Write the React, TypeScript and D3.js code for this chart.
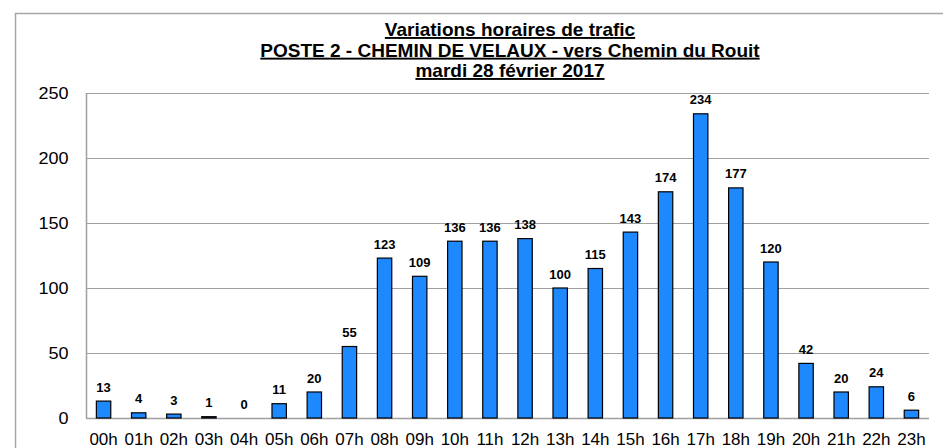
import React from "react";
import * as d3 from "d3";

const hours = ["00h","01h","02h","03h","04h","05h","06h","07h","08h","09h","10h","11h","12h","13h","14h","15h","16h","17h","18h","19h","20h","21h","22h","23h"];
const counts = [13,4,3,1,0,11,20,55,123,109,136,136,138,100,115,143,174,234,177,120,42,20,24,6];
const yTicks = [0,50,100,150,200,250];
const titleLines = ["Variations horaires de trafic","POSTE 2 - CHEMIN DE VELAUX - vers Chemin du Rouit","mardi 28 février 2017"];

export default function App() {
  const W = 943, H = 448;
  const left = 86, right = 929, top = 93, bottom = 418;
  const x = d3.scaleBand<string>().domain(hours).range([left, right]).paddingInner(0.59).paddingOuter(0.295);
  const y = d3.scaleLinear().domain([0, 250]).range([bottom, top]);
  const font = "Arial, 'Liberation Sans', sans-serif";
  const titleY = [36, 56.7, 77];
  return (
    <svg width={W} height={H} style={{ position: "absolute", left: 0, top: 0, background: "#fff" }} fontFamily={font}>
      <rect x={15.5} y={13.5} width={W} height={H} fill="none" stroke="#a6a6a6" strokeWidth={1.5} />
      {titleLines.map((t, i) => (
        <text key={i} x={510} y={titleY[i]} textAnchor="middle" fontWeight="bold" fontSize={19} textDecoration="underline">{t}</text>
      ))}
      {yTicks.map((v) => (
        <g key={v}>
          {v > 0 && <line x1={left} x2={right} y1={Math.round(y(v)) + 0.5} y2={Math.round(y(v)) + 0.5} stroke="#a0a0a0" strokeWidth={1} />}
          <text transform={`translate(68.5,${y(v)}) scale(1.14,1)`} dy="0.36em" textAnchor="end" fontSize={15.8}>{v}</text>
        </g>
      ))}
      <line x1={left + 0.5} x2={left + 0.5} y1={top} y2={bottom} stroke="#a0a0a0" strokeWidth={1.5} />
      <line x1={left} x2={right} y1={bottom + 0.5} y2={bottom + 0.5} stroke="#a0a0a0" strokeWidth={1.5} />
      {hours.map((h, i) => (
        <g key={h}>
          {counts[i] > 0 && (
            <rect x={x(h)!} y={y(counts[i])} width={x.bandwidth()} height={bottom - y(counts[i])} fill="#1E88FF" stroke="#000" strokeWidth={1.2} />
          )}
          <text x={x(h)! + x.bandwidth() / 2} y={y(counts[i]) - 9.5} textAnchor="middle" fontWeight="bold" fontSize={13}>{counts[i]}</text>
          <text x={x(h)! + x.bandwidth() / 2} y={445} textAnchor="middle" fontSize={17}>{h}</text>
        </g>
      ))}
    </svg>
  );
}
